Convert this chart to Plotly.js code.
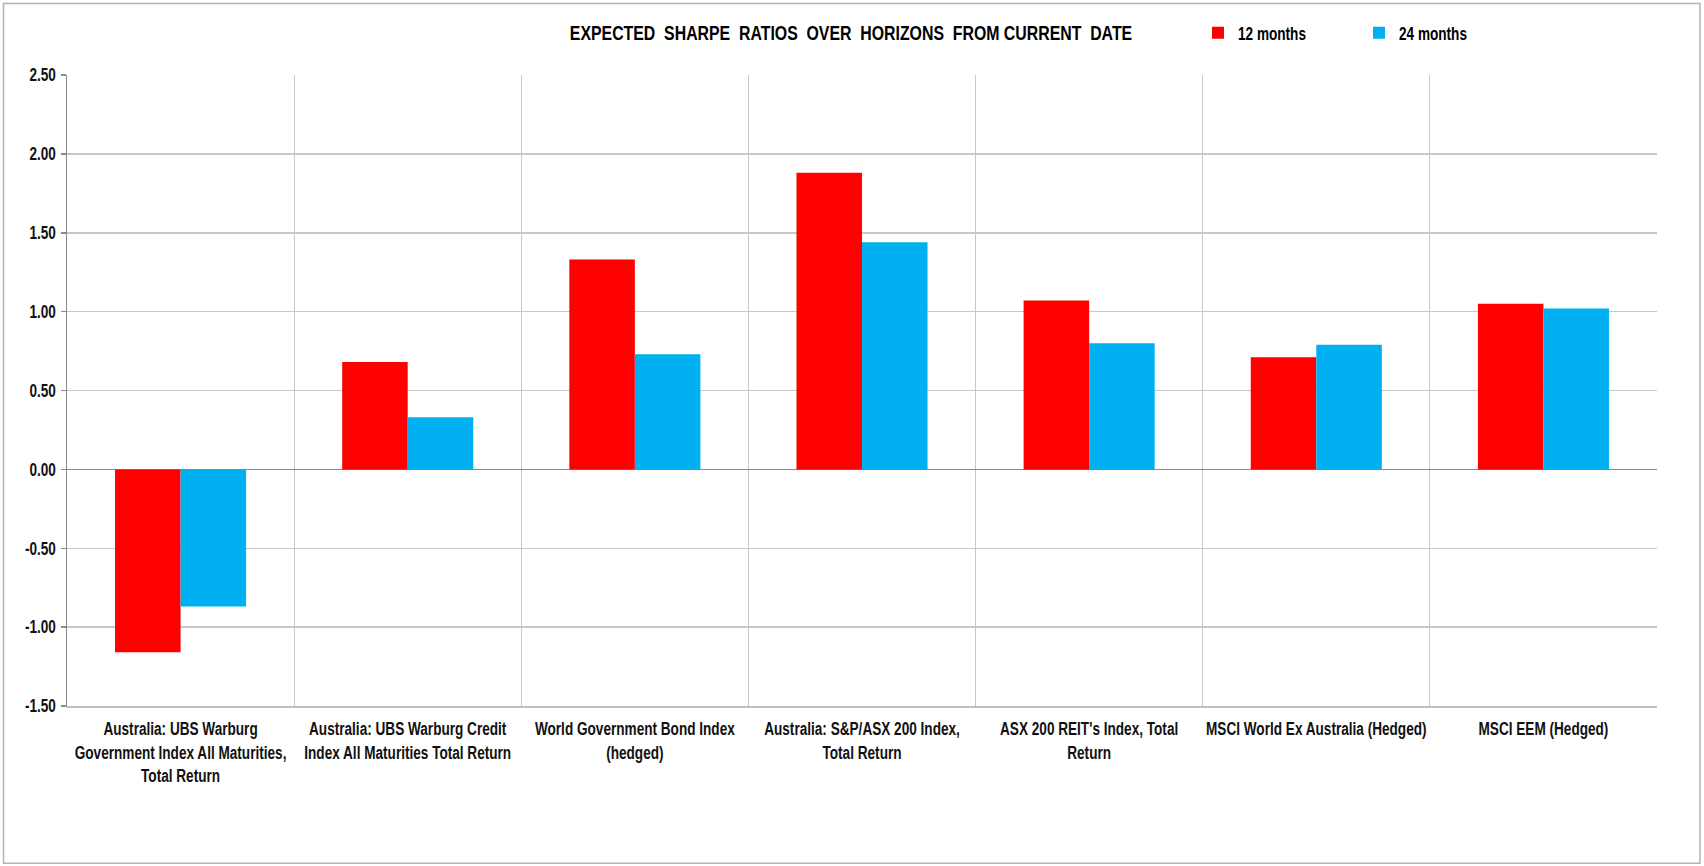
<!DOCTYPE html>
<html>
<head>
<meta charset="utf-8">
<script src="https://cdn.plot.ly/plotly-3.0.1.min.js"></script>
<style>
html,body{margin:0;padding:0;background:#fff;}
#chart{width:1704px;height:866px;}
</style>
</head>
<body>
<div id="chart"></div>
<script>
const categories = [
  "Australia: UBS Warburg<br>Government Index All Maturities,<br>Total Return",
  "Australia: UBS Warburg Credit<br>Index All Maturities Total Return",
  "World Government Bond Index<br>(hedged)",
  "Australia: S&P/ASX 200 Index,<br>Total Return",
  "ASX 200 REIT's Index, Total<br>Return",
  "MSCI World Ex Australia (Hedged)",
  "MSCI EEM (Hedged)"
];
const seriesNames = ["12 months", "24 months"];
const sharpe12m = [-1.16, 0.68, 1.33, 1.88, 1.07, 0.71, 1.05];
const sharpe24m = [-0.87, 0.33, 0.73, 1.44, 0.80, 0.79, 1.02];
const yTickVals = [-1.5, -1.0, -0.5, 0, 0.5, 1.0, 1.5, 2.0, 2.5];
const yTickText = ["-1.50", "-1.00", "-0.50", "0.00", "0.50", "1.00", "1.50", "2.00", "2.50"];
const chartTitle = "EXPECTED&nbsp; SHARPE&nbsp; RATIOS&nbsp; OVER&nbsp; HORIZONS&nbsp; FROM CURRENT&nbsp; DATE";

const FONT = '"Liberation Sans", Arial, sans-serif';
const NARROW = 0.755;   // horizontal condensing to mimic a narrow typeface

const traces = [
  {type: 'bar', name: seriesNames[0], x: categories, y: sharpe12m,
   marker: {color: '#FF0000'}, hoverinfo: 'y'},
  {type: 'bar', name: seriesNames[1], x: categories, y: sharpe24m,
   marker: {color: '#00B0F0'}, hoverinfo: 'y'}
];

const L = 67, R = 1657, T = 75, B = 705.7;
const pw = R - L, ph = B - T;
function px2x(p){ return (p - L) / pw; }
function py2y(p){ return (B - p) / ph; }

const layout = {
  width: 1704, height: 866,
  margin: {l: L, r: 1704 - R, t: T, b: 866 - B, pad: 0},
  paper_bgcolor: '#fff', plot_bgcolor: '#fff',
  font: {family: FONT, color: '#111', size: 18, weight: 'bold'},
  title: {
    text: chartTitle,
    font: {family: FONT, size: 21, color: '#000', weight: 'bold'},
    x: 851 / 1704, xanchor: 'center', xref: 'container',
    y: 1 - 33 / 866, yanchor: 'middle', yref: 'container'
  },
  showlegend: true,
  legend: {
    orientation: 'h', x: px2x(1198), xanchor: 'left', y: py2y(33), yanchor: 'middle',
    font: {family: FONT, size: 18, color: '#000', weight: 'bold'},
    itemwidth: 30, entrywidth: 116, entrywidthmode: 'pixels',
    bgcolor: 'rgba(0,0,0,0)', traceorder: 'normal'
  },
  bargap: 0.423, bargroupgap: 0,
  xaxis: {
    type: 'category',
    tickson: 'boundaries',
    showgrid: true, gridcolor: '#c8c8c8', gridwidth: 1,
    showline: true, linecolor: '#c0c0c0', linewidth: 1.5, mirror: false,
    ticks: '', ticklabelstandoff: 6,
    tickfont: {family: FONT, size: 18, color: '#111', weight: 'bold'},
    tickangle: 0, automargin: false, fixedrange: true
  },
  yaxis: {
    range: [-1.5, 2.5], autorange: false,
    tickvals: yTickVals, ticktext: yTickText,
    showgrid: true, gridcolor: '#c8c8c8', gridwidth: 1.5,
    zeroline: true, zerolinecolor: '#8a8a8a', zerolinewidth: 1.5,
    showline: true, linecolor: '#8a8a8a', linewidth: 1.5,
    ticks: 'outside', ticklen: 5, tickcolor: '#8a8a8a', tickwidth: 1.5,
    ticklabelstandoff: 1,
    tickfont: {family: FONT, size: 18, color: '#111', weight: 'bold'},
    automargin: false, fixedrange: true
  },
  shapes: [
    {type: 'rect', xref: 'paper', yref: 'paper',
     x0: px2x(3.5), x1: px2x(1700), y0: py2y(863), y1: py2y(3.5),
     line: {color: '#b4b4b4', width: 1.5}, fillcolor: 'rgba(0,0,0,0)', layer: 'below'}
  ]
};

function extent(el) {
  const n = el.getNumberOfChars();
  return [el.getStartPositionOfChar(0).x, el.getEndPositionOfChar(n - 1).x];
}

function condense(gd, k) {
  gd.querySelectorAll('.xtick text, .ytick text, .gtitle, .legendtext').forEach(function (t) {
    const anchor = t.getAttribute('text-anchor') || getComputedStyle(t).textAnchor || 'start';
    const lines = t.querySelectorAll('tspan.line');
    const targets = lines.length ? Array.from(lines) : [t];
    targets.forEach(function (el) {
      if (el.getNumberOfChars() === 0) return;
      const w = el.getComputedTextLength();
      if (!(w > 0)) return;
      const e0 = extent(el);
      el.setAttribute('textLength', (w * k).toFixed(2));
      el.setAttribute('lengthAdjust', 'spacingAndGlyphs');
      const e1 = extent(el);
      let dx;
      if (anchor === 'end') dx = e0[1] - e1[1];
      else if (anchor === 'middle') dx = (e0[0] + e0[1]) / 2 - (e1[0] + e1[1]) / 2;
      else dx = e0[0] - e1[0];
      if (Math.abs(dx) > 0.01) {
        const x = parseFloat(el.getAttribute('x') || '0');
        el.setAttribute('x', (x + dx).toFixed(2));
      }
    });
  });
}

Plotly.newPlot('chart', traces, layout, {staticPlot: true, displayModeBar: false})
  .then(function (gd) { condense(gd, NARROW); });
</script>
</body>
</html>
